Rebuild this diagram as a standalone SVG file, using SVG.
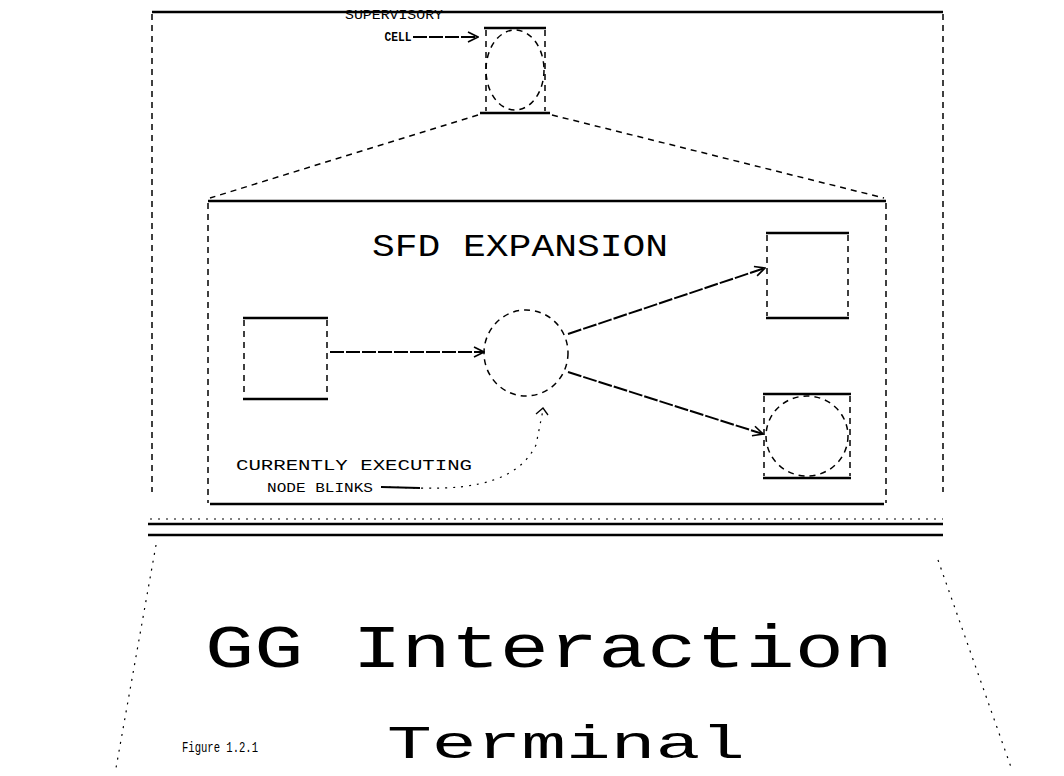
<svg xmlns="http://www.w3.org/2000/svg" width="1064" height="776" viewBox="0 0 1064 776">
<style>
.solid{stroke:#000;stroke-width:2.5;fill:none}
.dash{stroke:#000;stroke-width:1.5;fill:none;stroke-dasharray:6 5}
.dots{stroke:#000;stroke-width:1.2;fill:none;stroke-dasharray:2 6}
.conn{stroke:#000;stroke-width:2;fill:none;stroke-dasharray:14 2}
.lbl{font-family:"Liberation Mono","DejaVu Sans Mono",monospace;fill:#000}
</style>
<defs>
<marker id="arr" viewBox="0 0 12 12" refX="11" refY="6" markerWidth="12" markerHeight="12" markerUnits="userSpaceOnUse" orient="auto">
<path d="M1 1 L11 6 L1 11" fill="none" stroke="#000" stroke-width="1.6"/>
</marker>
</defs>
<rect width="1064" height="776" fill="#fff"/>

<g id="screen">
<line class="solid" x1="152" y1="12" x2="943" y2="12"/>
<line class="dash" x1="152" y1="14" x2="152" y2="492"/>
<line class="dash" x1="943" y1="14" x2="943" y2="492"/>
<line class="dots" x1="150" y1="519" x2="943" y2="519"/>
<line class="solid" x1="148" y1="524" x2="943" y2="524"/>
<line class="solid" x1="148" y1="535" x2="943" y2="535"/>
<line class="dots" x1="156" y1="545" x2="116" y2="768"/>
<line class="dots" x1="938" y1="560" x2="1012" y2="770"/>
</g>

<g id="supervisory-cell">
<line class="solid" x1="484" y1="28" x2="546" y2="28"/>
<line class="solid" x1="480" y1="113" x2="550" y2="113"/>
<line class="dash" x1="486" y1="30" x2="486" y2="111"/>
<line class="dash" x1="545" y1="30" x2="545" y2="111"/>
<ellipse class="dash" cx="515" cy="70" rx="29" ry="40"/>
</g>

<g id="label-supervisory">
<text class="lbl" x="394" y="19" font-size="12" text-anchor="middle" textLength="98" lengthAdjust="spacingAndGlyphs">SUPERVISORY</text>
<text class="lbl" x="398" y="41" font-size="13" font-weight="bold" text-anchor="middle" textLength="27" lengthAdjust="spacingAndGlyphs">CELL</text>
</g>

<g id="sfd-expansion">
<line class="solid" x1="208" y1="201" x2="886" y2="201"/>
<line class="dash" x1="208" y1="203" x2="208" y2="503"/>
<line class="dash" x1="886" y1="203" x2="886" y2="503"/>
<line class="solid" x1="210" y1="504" x2="884" y2="504"/>
<text class="lbl" x="520" y="256" font-size="32" text-anchor="middle" textLength="296" lengthAdjust="spacingAndGlyphs">SFD EXPANSION</text>
</g>

<g id="node-source">
<line class="solid" x1="243" y1="318" x2="328" y2="318"/>
<line class="solid" x1="243" y1="399" x2="328" y2="399"/>
<line class="dash" x1="244" y1="320" x2="244" y2="397"/>
<line class="dash" x1="327" y1="320" x2="327" y2="397"/>
</g>

<g id="node-process">
<ellipse class="dash" cx="526" cy="353" rx="42" ry="43"/>
</g>

<g id="node-store">
<line class="solid" x1="766" y1="233" x2="849" y2="233"/>
<line class="solid" x1="766" y1="318" x2="849" y2="318"/>
<line class="dash" x1="767" y1="235" x2="767" y2="316"/>
<line class="dash" x1="848" y1="235" x2="848" y2="316"/>
</g>

<g id="node-cell">
<line class="solid" x1="763" y1="394" x2="851" y2="394"/>
<line class="solid" x1="763" y1="478" x2="851" y2="478"/>
<line class="dash" x1="764" y1="396" x2="764" y2="476"/>
<line class="dash" x1="850" y1="396" x2="850" y2="476"/>
<ellipse class="dash" cx="807" cy="436" rx="41" ry="40"/>
</g>

<g id="label-executing">
<text class="lbl" x="354" y="470" font-size="15" text-anchor="middle" textLength="236" lengthAdjust="spacingAndGlyphs">CURRENTLY EXECUTING</text>
<text class="lbl" x="320" y="492" font-size="13" text-anchor="middle" textLength="106" lengthAdjust="spacingAndGlyphs">NODE BLINKS</text>
</g>

<g id="title">
<text class="lbl" x="549" y="667" font-size="62" text-anchor="middle" textLength="688" lengthAdjust="spacingAndGlyphs">GG Interaction</text>
<text class="lbl" x="566" y="758" font-size="46" text-anchor="middle" textLength="358" lengthAdjust="spacingAndGlyphs">Terminal</text>
<text class="lbl" x="220" y="752" font-size="14" text-anchor="middle" textLength="76" lengthAdjust="spacingAndGlyphs">Figure 1.2.1</text>
</g>

<g id="connectors">
<line class="conn" x1="413" y1="37" x2="478" y2="37" stroke-dasharray="none" marker-end="url(#arr)"/>
<line class="dash" x1="478" y1="115" x2="210" y2="198"/>
<line class="dash" x1="552" y1="115" x2="884" y2="198"/>
<line class="conn" x1="330" y1="352" x2="484" y2="352" marker-end="url(#arr)"/>
<line class="conn" x1="568" y1="334" x2="765" y2="268" marker-end="url(#arr)"/>
<line class="conn" x1="568" y1="372" x2="763" y2="434" marker-end="url(#arr)"/>
<path class="dots" d="M 381 487 L 420 488 C 480 490 520 478 536 445 L 543 410" stroke-width="1.6" stroke-dasharray="3 3"/>
<path d="M 536 414 L 543 408 L 548 415" fill="none" stroke="#000" stroke-width="1.3"/>
<path d="M 381 487 L 420 488" fill="none" stroke="#000" stroke-width="2"/>
</g>
</svg>
